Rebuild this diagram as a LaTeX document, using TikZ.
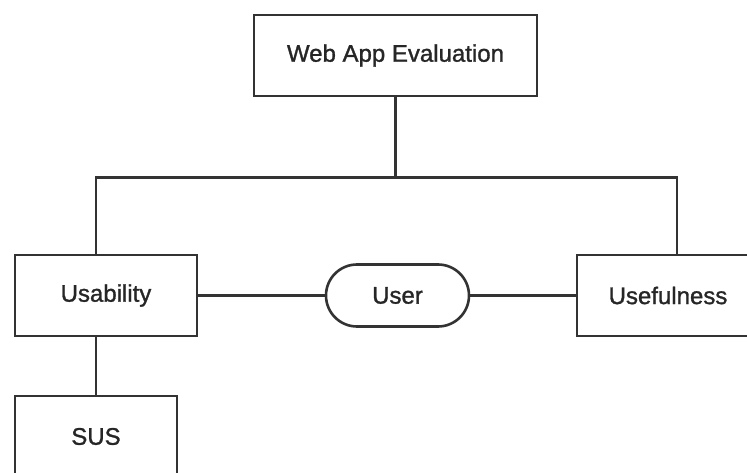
\documentclass[tikz,border=0pt]{standalone}
\usepackage{fontspec}
\setmainfont{Liberation Sans}
\newfontfamily\labelfont[FakeBold=1.2]{Liberation Sans}
\usetikzlibrary{positioning}

\tikzset{box/.style={draw=black!80,line width=2.6pt,fill=white,text=black!85,font=\labelfont\fontsize{24}{28}\selectfont,minimum height=81pt,inner sep=0pt},
	pill/.style={box,minimum height=62pt,minimum width=143pt,rounded corners=31pt},
	link/.style={draw=black!80,line width=2.6pt}}

\begin{document}
\begin{tikzpicture}[x=1pt,y=-1pt]
		\clip (0,0) rectangle (747,473);
		\fill[white] (0,0) rectangle (747,473);
		\node[box,minimum width=283pt] (eval) at (395.5,55.5) {Web App Evaluation};
		\node[box,minimum width=182pt] (usab) at (106,295.5) {Usability};
		\node[box,minimum width=162pt] (sus) at (96,436.5) {SUS};
		\node[pill] (user) at (397.5,295.5) {User};
		\node[box,minimum width=182pt] (usef) at (668,295.5) {Usefulness};
		\coordinate (usabtop) at ([xshift=-10pt]usab.north);
		\coordinate (useftop) at ([xshift=9pt]usef.north);
		\draw[link] (eval.south) -- ++(0,80) -| (usabtop);
		\draw[link] (eval.south) -- ++(0,80) -| (useftop);
		\draw[link] (sus.north) -- (sus.north |- usab.south);
		\draw[link] (usab.east) -- (user.west);
		\draw[link] (user.east) -- (usef.west);
 	 \end{tikzpicture}
\end{document}
